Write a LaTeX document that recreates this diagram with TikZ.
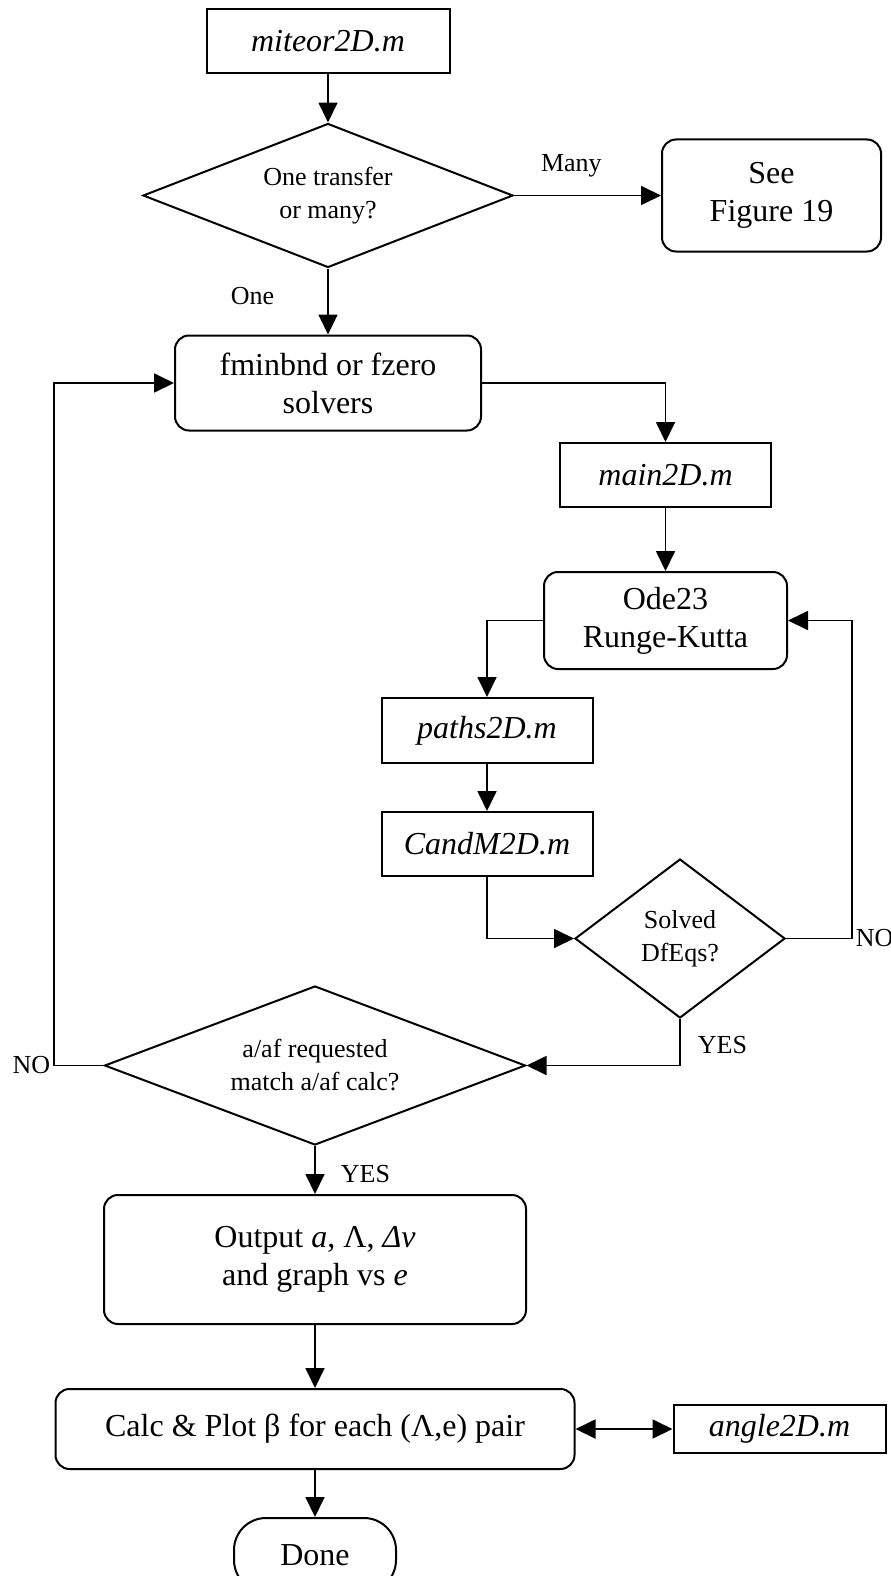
\documentclass[tikz,border=0pt]{standalone}
\usepackage{fontspec}
\setmainfont{Liberation Serif}
\usepackage{tikz}
\usetikzlibrary{arrows.meta,shapes.geometric,positioning}
\tikzset{
    %Define standard arrow tip
    >={Triangle[length=20pt,width=19pt]},
    %Define style for boxes
    filebox/.style={
           rectangle,
           draw=black, line width=2pt,
           minimum width=211pt,
           minimum height=64pt,
           inner sep=2pt,
           font=\fontsize{32}{38}\selectfont\itshape,
           text centered},
    procbox/.style={
           rectangle,
           rounded corners=14pt,
           draw=black, line width=2pt,
           inner sep=2pt,
           font=\fontsize{32}{38}\selectfont,
           align=center},
    choice/.style={
           diamond,
           draw=black, line width=2pt,
           inner sep=0pt,
           font=\fontsize{26}{33}\selectfont,
           align=center},
    lbl/.style={
           inner sep=3pt,
           font=\fontsize{26}{30}\selectfont},
    % Define arrow style
    pil/.style={
           ->,
           line width=1.8pt}
}
\begin{document}
\begin{tikzpicture}[x=1pt,y=-1pt,node distance=50pt]
\useasboundingbox (0,0) rectangle (891,1576);
\node[filebox, minimum width=243pt](miteor) at (328,41.5){miteor2D.m};
\node[choice, aspect=2.6, minimum width=370pt, minimum height=144pt, below=48pt of miteor](trans){One transfer\\or many?};
\node[procbox, minimum width=219pt, minimum height=112pt, right=147pt of trans](seefig){See\\Figure 19};
\node[procbox, minimum width=306pt, minimum height=95pt, below=66pt of trans](fmin){fminbnd or fzero\\solvers};
\node[filebox](main2D) at (665.5,475){main2D.m};
\node[procbox, minimum width=243pt, minimum height=97pt, below=63pt of main2D](ode){Ode23\\Runge-Kutta};
\node[filebox, minimum height=65pt](paths) at (487,730.5){paths2D.m};
\node[filebox, below=47pt of paths](candm){CandM2D.m};
\node[choice, aspect=1.3, minimum width=210pt, minimum height=159pt](solved) at (680,938.5){Solved\\DfEqs?};
\node[choice, aspect=2.6, minimum width=421pt, minimum height=159pt](match) at (315,1065.5){a/af requested\\match a/af calc?};
\node[procbox, minimum width=422pt, minimum height=129pt, below=48pt of match](output){Output \textit{a}, Λ, \textit{Δv}\\and graph vs \textit{e}};
\node[procbox, minimum width=519pt, minimum height=80pt, below=63pt of output](calc){Calc \& Plot β for each (Λ,e) pair};
\node[filebox, minimum width=212pt, minimum height=48pt, right=97pt of calc](angle){angle2D.m};
\node[procbox, rounded corners=32pt, minimum width=162pt, minimum height=74pt, below=47pt of calc](done){Done};

\path[pil]
	(miteor) edge (trans)
	(trans) edge node[lbl, pos=0.39, above=14pt]{Many} (seefig)
	(trans) edge node[lbl, pos=0.42, left=50pt]{One} (fmin)
	(main2D) edge (ode)
	(paths) edge (candm)
	(match) edge node[lbl, pos=0.58, right=22pt]{YES} (output)
	(output) edge (calc)
	(calc) edge (done);
\draw[pil] (fmin.east) -| (main2D.north);
\draw[pil] (ode.west) -| (paths.north);
\draw[pil] (candm.south) |- (solved.west);
\draw[pil] (solved.east) -- ++(66,0) node[lbl, anchor=west]{NO} |- (ode.east);
\draw[pil] (solved.south) |- node[lbl, pos=0.28, right=14pt]{YES} (match.east);
\draw[pil] (match.west) -- ++(-49.5,0) node[lbl, anchor=east]{NO} |- (fmin.west);
\draw[pil, <->] (calc) -- (angle);
\end{tikzpicture}
\end{document}
